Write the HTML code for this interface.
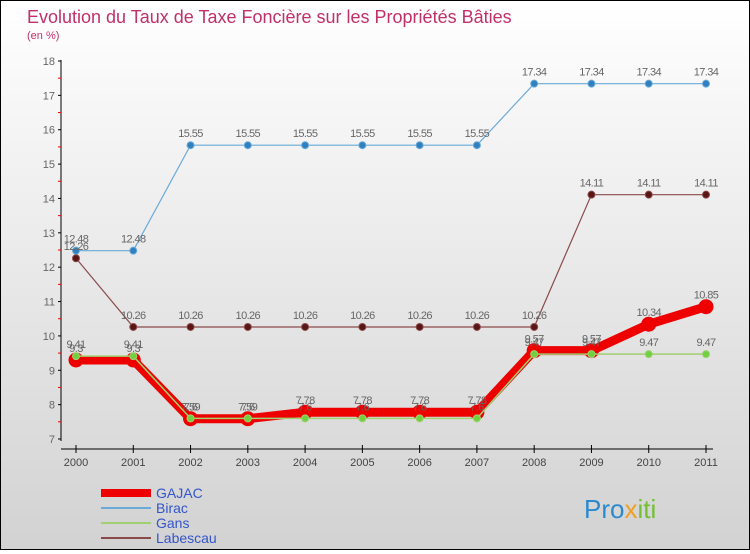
<!DOCTYPE html>
<html><head><meta charset="utf-8"><style>
body{margin:0;width:750px;height:550px;overflow:hidden;font-family:"Liberation Sans",sans-serif}
#wrap{position:relative;width:748px;height:548px;border:1px solid #000;background:linear-gradient(#fff,#d2d2d2)}
</style></head><body>
<div id="wrap">
<svg id="chart" width="748" height="548">
<text x="26" y="22" font-size="18" fill="#c0306a">Evolution du Taux de Taxe Foncière sur les Propriétés Bâties</text>
<text x="26" y="38" font-size="11" fill="#c0306a">(en %)</text>
<g id="axes"></g><g id="series"></g><g id="legend"></g>
<text x="583" y="517" font-size="26" fill="#2a8ad0">Pro<tspan fill="#f0a020">x</tspan><tspan fill="#70c030">iti</tspan></text>
</svg></div>
<script>
const years=[2000,2001,2002,2003,2004,2005,2006,2007,2008,2009,2010,2011];
const yTicks=[7,8,9,10,11,12,13,14,15,16,17,18];
const gajac=[9.3,9.3,7.59,7.59,7.78,7.78,7.78,7.78,9.57,9.57,10.34,10.85];
const birac=[12.48,12.48,15.55,15.55,15.55,15.55,15.55,15.55,17.34,17.34,17.34,17.34];
const gans=[9.41,9.41,7.6,7.6,7.6,7.6,7.6,7.6,9.47,9.47,9.47,9.47];
const labescau=[12.26,10.26,10.26,10.26,10.26,10.26,10.26,10.26,10.26,14.11,14.11,14.11];
const names=["GAJAC","Birac","Gans","Labescau"];
const NS="http://www.w3.org/2000/svg";
const X=i=>75+i*(630/11);
const Y=v=>438-(v-7)*(378/11);
function mk(t,a,p){const e=document.createElementNS(NS,t);for(const k in a)e.setAttribute(k,a[k]);p.appendChild(e);return e;}
const ax=document.getElementById('axes');
mk('line',{x1:60,y1:59,x2:60,y2:440,stroke:'#000'},ax);
mk('line',{x1:60,y1:448,x2:712,y2:448,stroke:'#000'},ax);
yTicks.forEach(v=>{
 mk('line',{x1:57,y1:Y(v),x2:60,y2:Y(v),stroke:'#000'},ax);
 if(v<18)mk('line',{x1:57,y1:Y(v+0.5),x2:60,y2:Y(v+0.5),stroke:'#e00'},ax);
 const t=mk('text',{x:54,y:Y(v)+4,'font-size':11,fill:'#666','text-anchor':'end'},ax);t.textContent=v;
 
 
});
years.forEach((y,i)=>{
 mk('line',{x1:X(i),y1:444,x2:X(i),y2:452,stroke:'#000'},ax);
 const t=mk('text',{x:X(i),y:465,'font-size':11,fill:'#444','text-anchor':'middle'},ax);t.textContent=y;
 
 
});
const sg=document.getElementById('series');
function series(data,color,w,r,fill,name){
 const g=mk('g',{},sg);
 
 
 mk('polyline',{points:data.map((v,i)=>X(i)+','+Y(v)).join(' '),fill:'none',stroke:color,'stroke-width':w},g);
 data.forEach((v,i)=>{
  const c=mk('circle',{cx:X(i),cy:Y(v),r:r,fill:fill,stroke:color},g);
  
  
  const t=mk('text',{x:X(i),y:Y(v)-8,'font-size':11,fill:'#666','text-anchor':'middle','letter-spacing':'-0.6'},g);t.textContent=v;
  
  
 });
}
series(birac,'#6aaad8',1.2,3.5,'#3080c0','birac');
series(labescau,'#8a4a4a',1.2,3.5,'#5a1515','labescau');
series(gajac,'#ee0000',9,7,'#ee0000','gajac');
series(gans,'#a0d070',1.5,3.5,'#70d040','gans');
const lg=document.getElementById('legend');
const lc=[['#ee0000',8],['#6aaad8',2],['#a0d070',2],['#8a4a4a',2]];
names.forEach((n,i)=>{
 const y=492+i*15;
 const l=mk('line',{x1:100,y1:y,x2:150,y2:y,stroke:lc[i][0],'stroke-width':lc[i][1]},lg);
 
 
 const t=mk('text',{x:155,y:y+5,'font-size':14,fill:'#3355cc'},lg);t.textContent=n;
 
 
});
</script></body></html>
